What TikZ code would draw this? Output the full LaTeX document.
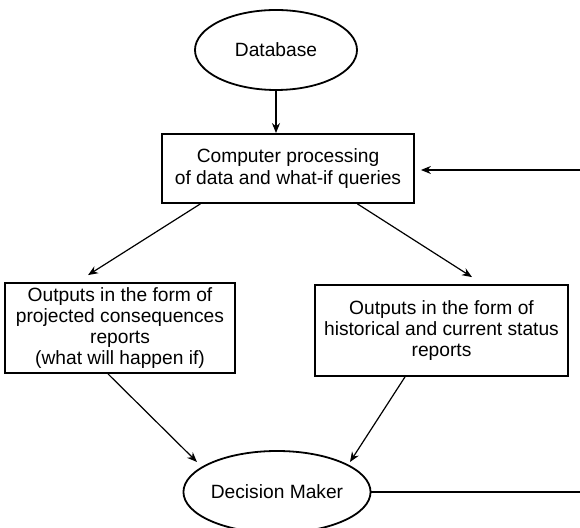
\documentclass[tikz,border=0pt]{standalone}
\usepackage{fontspec}
\setmainfont{Liberation Sans}
\usetikzlibrary{shapes.geometric,arrows.meta}
\begin{document}
\begin{tikzpicture}[x=0.5pt,y=-0.5pt,>={Stealth[length=5pt,width=4pt]},font=\fontsize{9.6}{10.6}\selectfont]
    \tikzstyle{store}=[draw,ellipse,line width=0.9pt,inner sep=0pt]
    \tikzstyle{process}=[draw,rectangle,line width=0.9pt,align=center,inner sep=0pt]
    \tikzstyle{flow}=[line width=0.6pt]

    \useasboundingbox (0,0) rectangle (580,528);

    \node[store,minimum width=81pt,minimum height=40pt] at (276,50) (db) {Database};
    \node[process,minimum width=126pt,minimum height=34.5pt] at (288,168.5) (proc) {Computer processing\\of data and what-if queries};
    \node[process,minimum width=115pt,minimum height=45pt] at (120,328) (proj) {Outputs in the form of\\projected consequences\\reports\\(what will happen if)};
    \node[process,minimum width=126.5pt,minimum height=45.5pt] at (441.5,330.5) (hist) {Outputs in the form of\\historical and current status\\reports};
    \node[store,minimum width=83.5pt,minimum height=41pt] at (277,492) (dm) {Decision Maker};
    \coordinate (fbt) at (580,170);
    \coordinate (fbb) at (580,492);

    \draw[flow,->] (db.south) -- (db.south |- proc.north);
    \draw[flow,->] (proc.202) -- ([shift={(-32,-7)}]proj.north);
    \draw[flow,->] (proc.333) -- ([shift={(30.5,-7)}]hist.north);
    \draw[flow,->] ([shift={(-12,0)}]proj.south) -- ([shift={(-80,-30)}]dm.center);
    \draw[flow,->] ([shift={(-36.5,0)}]hist.south) -- ([shift={(73,-30)}]dm.center);
    \draw[flow] (dm.east) -- (fbb);
    \draw[flow,->] (fbt) -- ([shift={(6,1.5)}]proc.east);
\end{tikzpicture}
\end{document}
